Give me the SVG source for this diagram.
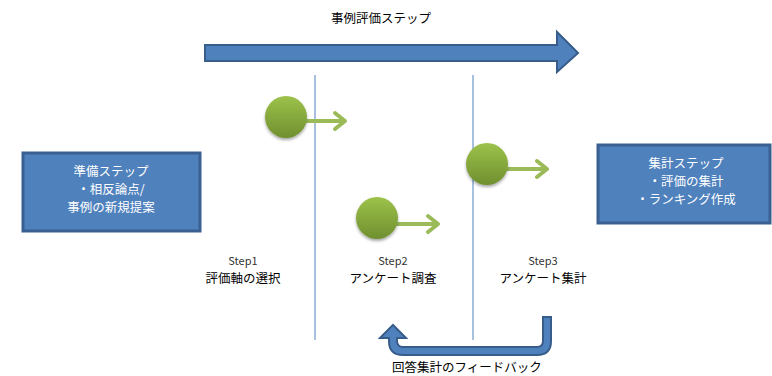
<svg xmlns="http://www.w3.org/2000/svg" width="772" height="376" viewBox="0 0 772 376">
<style>
text{font-family:"Noto Sans CJK JP","Noto Sans",sans-serif;font-size:12.5px;fill:#000;text-anchor:middle}
.w{fill:#fff}
.box{fill:#4f81bd;stroke:#3a6092;stroke-width:3}
.blue{fill:#4f81bd;stroke:#385d8a;stroke-width:2}
.vline{stroke:#4f81bd;stroke-width:1;fill:none}
.garr{stroke:#9bbb59;stroke-width:4;fill:none;stroke-linecap:round;stroke-linejoin:round}
.step{font-size:11px;fill:#333}
</style>
<defs>
<linearGradient id="g" x1="0" y1="0" x2="0" y2="1">
<stop offset="0" stop-color="#9dc24a"/>
<stop offset="1" stop-color="#6f8f2f"/>
</linearGradient>
<filter id="sh" x="-30%" y="-30%" width="160%" height="160%">
<feGaussianBlur in="SourceAlpha" stdDeviation="1.5"/>
<feOffset dy="1.5"/>
<feComponentTransfer><feFuncA type="linear" slope="0.35"/></feComponentTransfer>
<feMerge><feMergeNode/><feMergeNode in="SourceGraphic"/></feMerge>
</filter>
</defs>
<g id="connectors">
<line class="vline" x1="315" y1="75" x2="315" y2="340"/>
<line class="vline" x1="473" y1="75" x2="473" y2="340"/>
<polygon class="blue" points="205,45 557,45 557,32 578,53 557,72 557,61 205,61"/>
<path class="blue" d="M543 317 L551 317 L551 341 Q551 355 537 355 L403 355 Q389 355 389 341 L389 338 L380 338 L393 325 L406 338 L397 338 L397 341 Q397 347 403 347 L537 347 Q543 347 543 341 Z"/>
<path class="garr" d="M306 121 H345 M335 113 L345 121 L335 129"/>
<path class="garr" d="M397 224 H438 M428 216 L438 224 L428 232"/>
<path class="garr" d="M507 169 H547 M537 161 L547 169 L537 177"/>
</g>
<text x="381" y="23">事例評価ステップ</text>
<g id="prep">
<rect class="box" x="23" y="153" width="177" height="78"/>
<text class="w" x="111" y="176">準備ステップ</text>
<text class="w" x="111" y="194">・相反論点/</text>
<text class="w" x="111" y="212">事例の新規提案</text>
</g>
<g id="agg">
<rect class="box" x="598" y="145" width="172" height="78"/>
<text class="w" x="686" y="168">集計ステップ</text>
<text class="w" x="686" y="186">・評価の集計</text>
<text class="w" x="686" y="204">・ランキング作成</text>
</g>
<g id="step1">
<circle cx="286" cy="117" r="21" fill="url(#g)" filter="url(#sh)"/>
<text class="step" x="243" y="265">Step1</text>
<text x="243" y="283">評価軸の選択</text>
</g>
<g id="step2">
<circle cx="377" cy="218" r="21" fill="url(#g)" filter="url(#sh)"/>
<text class="step" x="393" y="265">Step2</text>
<text x="393" y="283">アンケート調査</text>
</g>
<g id="step3">
<circle cx="487" cy="164" r="21" fill="url(#g)" filter="url(#sh)"/>
<text class="step" x="543" y="265">Step3</text>
<text x="543" y="283">アンケート集計</text>
</g>
<text x="467" y="372">回答集計のフィードバック</text>
</svg>
